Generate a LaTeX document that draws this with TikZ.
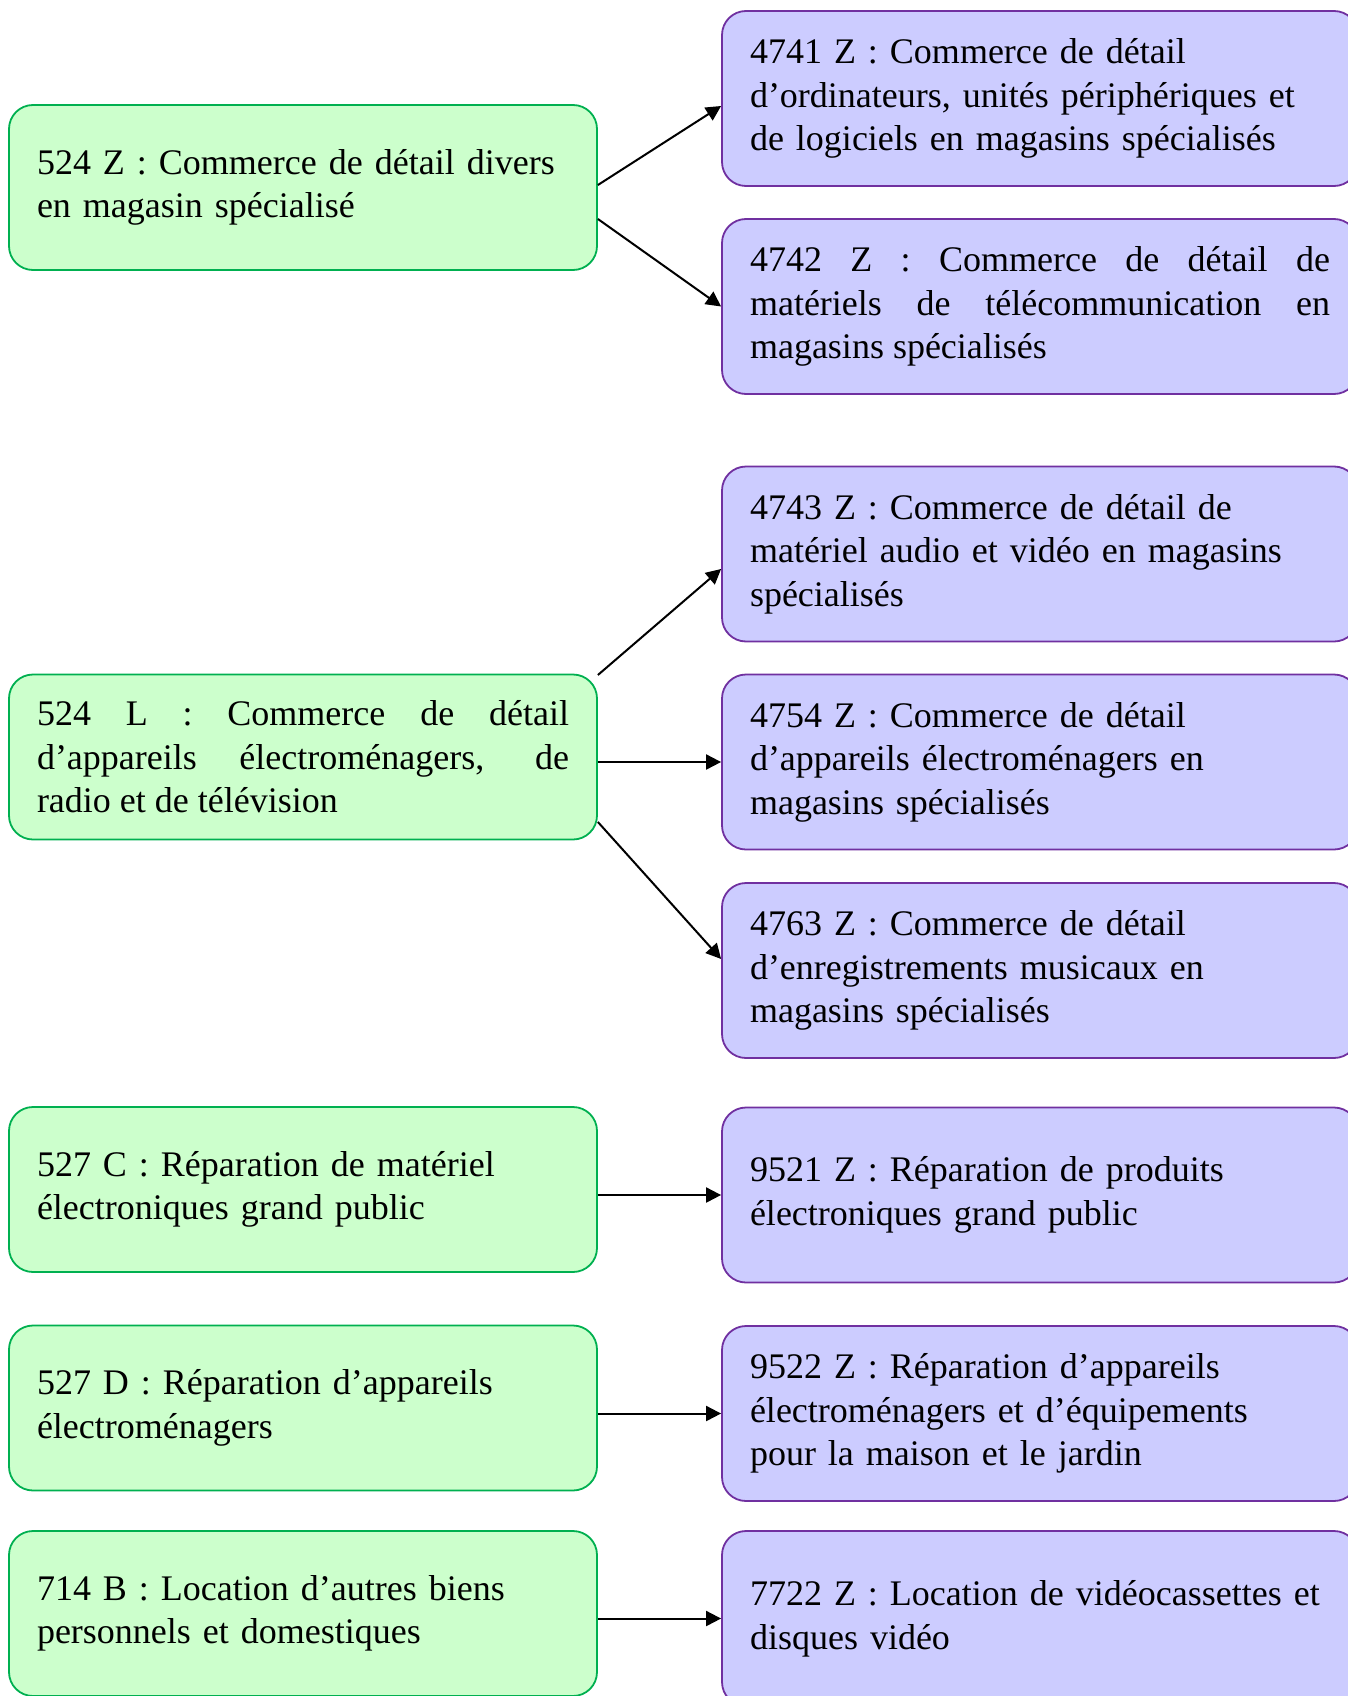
\documentclass[tikz,border=0pt]{standalone}
\usepackage{fontspec}
\setmainfont{Liberation Serif}
\usepackage{xcolor}
\usetikzlibrary{arrows.meta}
\definecolor{vertfond}{HTML}{CCFFCC}
\definecolor{vertbord}{HTML}{00B050}
\definecolor{mauvefond}{HTML}{CCCCFF}
\definecolor{mauvebord}{HTML}{7030A0}

\begin{document}
\begin{tikzpicture}[x=0.5pt,y=-0.5pt,
		ancien/.style={draw=vertbord,fill=vertfond,line width=0.9pt,rounded corners=12pt,text width=266pt,inner xsep=14pt,minimum height=82.5pt,align=left,font=\fontsize{18}{21.8}\selectfont},
		nouveau/.style={draw=mauvebord,fill=mauvefond,line width=0.9pt,rounded corners=12pt,text width=290pt,inner xsep=14pt,minimum height=87.5pt,align=left,font=\fontsize{18}{21.8}\selectfont},
		fleche/.style={-{Triangle[length=7.5pt,width=7.5pt]},line width=1pt}]
	\path[fill=white,use as bounding box] (0,0) rectangle (1348,1696);
	\clip (0,0) rectangle (1348,1696);

	\node[ancien] (s1) at (303,187.5) {524 Z : Commerce de détail divers\\ en magasin spécialisé};
	\node[ancien,align=justify] (s2) at (303,757) {524 L : Commerce de détail\linebreak d’appareils électroménagers, de\linebreak radio et de télévision};
	\node[ancien] (s3) at (303,1189.5) {527 C : Réparation de matériel\\ électroniques grand public};
	\node[ancien] (s4) at (303,1408) {527 D : Réparation d’appareils\\ électroménagers};
	\node[ancien] (s5) at (303,1613.5) {714 B : Location d’autres biens\\ personnels et domestiques};

	\node[nouveau] (d1) at (1040,98.5) {4741 Z : Commerce de détail\\ d’ordinateurs, unités périphériques et\\ de logiciels en magasins spécialisés};
	\node[nouveau,align=justify] (d2) at (1040,306.5) {4742 Z : Commerce de détail de\linebreak matériels de télécommunication en\linebreak magasins spécialisés};
	\node[nouveau] (d3) at (1040,554) {4743 Z : Commerce de détail de\\ matériel audio et vidéo en magasins\\ spécialisés};
	\node[nouveau] (d4) at (1040,762) {4754 Z : Commerce de détail\\ d’appareils électroménagers en\\ magasins spécialisés};
	\node[nouveau] (d5) at (1040,970.5) {4763 Z : Commerce de détail\\ d’enregistrements musicaux en\\ magasins spécialisés};
	\node[nouveau] (d6) at (1040,1195) {9521 Z : Réparation de produits\\ électroniques grand public};
	\node[nouveau] (d7) at (1040,1413.5) {9522 Z : Réparation d’appareils\\ électroménagers et d’équipements\\ pour la maison et le jardin};
	\node[nouveau] (d8) at (1040,1618.5) {7722 Z : Location de vidéocassettes et\\ disques vidéo};

	\draw[fleche] ([yshift=1.25pt]s1.east) -- ([yshift=-3.75pt]d1.west);
	\draw[fleche] ([yshift=-15.75pt]s1.east) -- (d2.west);
	\draw[fleche] ([yshift=41pt]s2.east) -- ([yshift=-7.5pt]d3.west);
	\draw[fleche] (d4.west -| s2.east) -- (d4.west);
	\draw[fleche] ([yshift=-32.5pt]s2.east) -- ([yshift=5.75pt]d5.west);
	\draw[fleche] (d6.west -| s3.east) -- (d6.west);
	\draw[fleche] (d7.west -| s4.east) -- (d7.west);
	\draw[fleche] (d8.west -| s5.east) -- (d8.west);
\end{tikzpicture}
\end{document}
